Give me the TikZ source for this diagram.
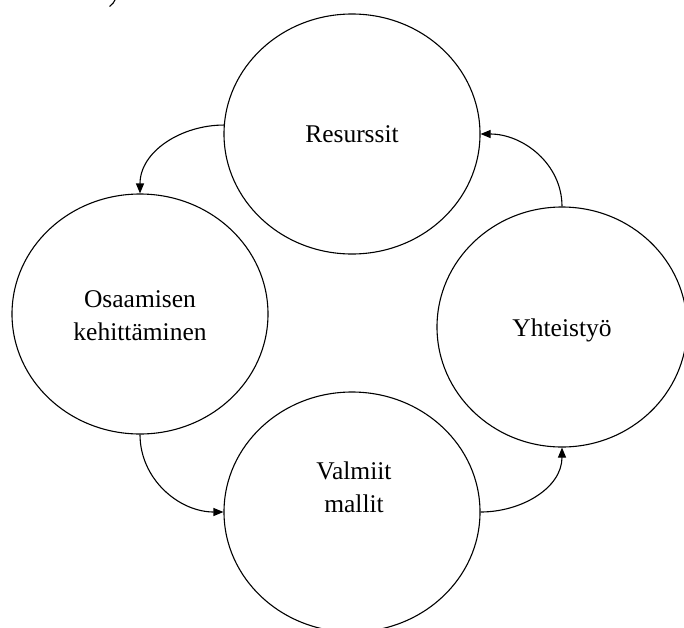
\documentclass[tikz,border=0pt]{standalone}
\usepackage{fontspec}
\setmainfont{Liberation Serif}
\usetikzlibrary{shapes.geometric,arrows.meta}
\tikzset{
  blob/.style={draw, ellipse, line width=1.1pt, minimum width=256pt, minimum height=240pt, inner sep=0pt},
  lbl/.style={align=center, font=\fontsize{25.5}{33}\selectfont},
  flow/.style={line width=1.1pt, -{Triangle[length=10pt,width=8pt]}}
}
\begin{document}
\begin{tikzpicture}[x=1pt,y=-1pt]
\useasboundingbox (0,0) rectangle (684,627);
\node[blob] (R) at (352,134) {};
\node[blob] (O) at (140,314) {};
\node[blob, minimum width=250pt] (Y) at (562,327) {};
\node[blob] (V) at (352,512) {};
\node[lbl] (tR) at (352,134) {Resurssit};
\node[lbl] (tO) at (140,316) {Osaamisen\\kehittäminen};
\node[lbl] (tY) at (562,330) {Yhteistyö};
\node[lbl] (tV) at (354,487) {Valmiit\\mallit};
\draw[flow] (R.176) to[out=180,in=90] (O.north);
\draw[flow] (O.south) to[out=-90,in=180] (V.west);
\draw[flow] (V.east) to[out=0,in=-90] (Y.south);
\draw[flow] (Y.north) to[out=90,in=0] (R.east);
\coordinate (a1) at (109.5,6.5);
\coordinate (a2) at (115.5,-1);
\draw[line width=1.1pt] (a1) to[bend right=15] (a2);
\end{tikzpicture}
\end{document}
